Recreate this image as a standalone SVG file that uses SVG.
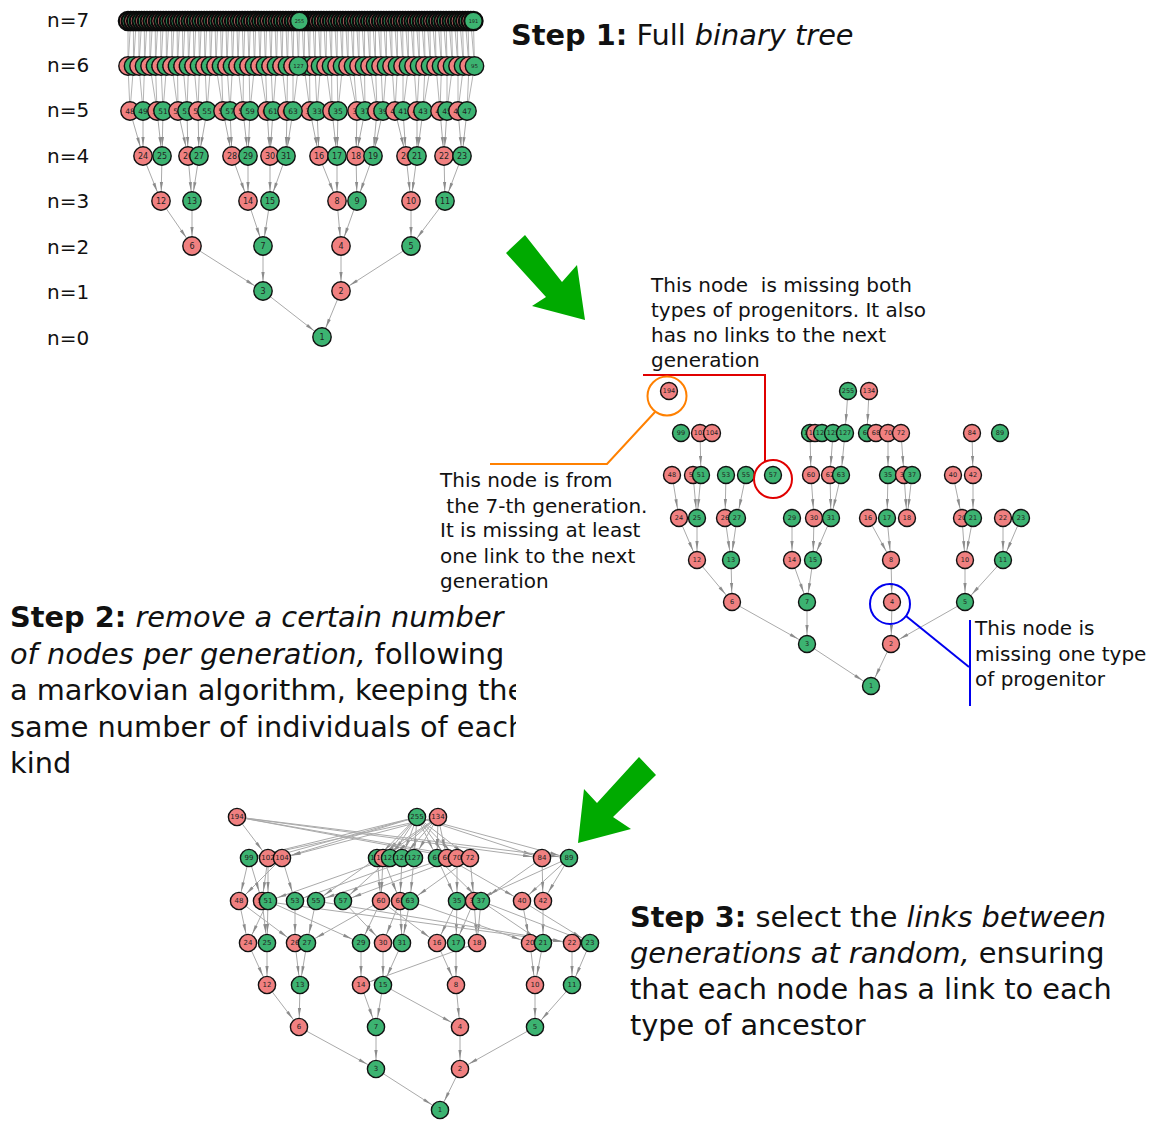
<svg xmlns="http://www.w3.org/2000/svg" width="1158" height="1121" viewBox="0 0 1158 1121">
<style>
text{font-family:"DejaVu Sans",sans-serif;fill:#111}
.p{fill:#f08080;stroke:#111;stroke-width:1.4}
.g{fill:#3cb371;stroke:#111;stroke-width:1.4}
#tree1-gen7 .p,#tree1-gen7 .g{stroke-width:2.2;stroke:#0a0a0a}
.edges line{stroke:#aaaaaa;stroke-width:1;marker-end:url(#ah)}
.edges .dense line{marker-end:none;stroke:#b4b4b4}
.nodes text{text-anchor:middle;dominant-baseline:central;fill:#222}
.ann{font-size:20px}
.step{font-size:28.8px}
.b{font-weight:bold}
.i{font-style:italic}
.big{fill:#00aa00}
</style>
<defs>
<marker id="ah" markerUnits="userSpaceOnUse" markerWidth="40" markerHeight="10" viewBox="-20 -5 40 10" refX="10" refY="0" orient="auto" overflow="visible"><path d="M-9,-1.6 L0,0 L-9,1.6 z" fill="#8c8c8c"/></marker>
<clipPath id="clip2"><rect x="0" y="590" width="516" height="200"/></clipPath>
</defs>
<rect width="1158" height="1121" fill="#fff"/>

<g id="gen-labels" font-size="20">
<text x="47" y="27">n=7</text><text x="47" y="72">n=6</text><text x="47" y="117">n=5</text><text x="47" y="163">n=4</text>
<text x="47" y="208">n=3</text><text x="47" y="254">n=2</text><text x="47" y="299">n=1</text><text x="47" y="345">n=0</text>
</g>

<g id="tree1">
<g id="tree1-connectors" class="edges">
<g class="dense">
<line x1="128" y1="21" x2="128" y2="66"/><line x1="130.7" y1="21" x2="128" y2="66"/><line x1="133.4" y1="21" x2="133.5" y2="66"/><line x1="136.2" y1="21" x2="133.5" y2="66"/><line x1="138.9" y1="21" x2="139" y2="66"/><line x1="141.6" y1="21" x2="139" y2="66"/><line x1="144.3" y1="21" x2="144.5" y2="66"/><line x1="147" y1="21" x2="144.5" y2="66"/><line x1="149.8" y1="21" x2="150" y2="66"/><line x1="152.5" y1="21" x2="150" y2="66"/><line x1="155.2" y1="21" x2="155.5" y2="66"/><line x1="157.9" y1="21" x2="155.5" y2="66"/><line x1="160.6" y1="21" x2="161" y2="66"/><line x1="163.4" y1="21" x2="161" y2="66"/><line x1="166.1" y1="21" x2="166.5" y2="66"/><line x1="168.8" y1="21" x2="166.5" y2="66"/>
<line x1="171.5" y1="21" x2="172" y2="66"/><line x1="174.2" y1="21" x2="172" y2="66"/><line x1="177" y1="21" x2="177.5" y2="66"/><line x1="179.7" y1="21" x2="177.5" y2="66"/><line x1="182.4" y1="21" x2="183" y2="66"/><line x1="185.1" y1="21" x2="183" y2="66"/><line x1="187.8" y1="21" x2="188.5" y2="66"/><line x1="190.6" y1="21" x2="188.5" y2="66"/><line x1="193.3" y1="21" x2="194" y2="66"/><line x1="196" y1="21" x2="194" y2="66"/><line x1="198.7" y1="21" x2="199.5" y2="66"/><line x1="201.4" y1="21" x2="199.5" y2="66"/><line x1="204.2" y1="21" x2="205" y2="66"/><line x1="206.9" y1="21" x2="205" y2="66"/><line x1="209.6" y1="21" x2="210.5" y2="66"/><line x1="212.3" y1="21" x2="210.5" y2="66"/>
<line x1="215" y1="21" x2="216" y2="66"/><line x1="217.8" y1="21" x2="216" y2="66"/><line x1="220.5" y1="21" x2="221.5" y2="66"/><line x1="223.2" y1="21" x2="221.5" y2="66"/><line x1="225.9" y1="21" x2="227" y2="66"/><line x1="228.6" y1="21" x2="227" y2="66"/><line x1="231.4" y1="21" x2="232.5" y2="66"/><line x1="234.1" y1="21" x2="232.5" y2="66"/><line x1="236.8" y1="21" x2="238" y2="66"/><line x1="239.5" y1="21" x2="238" y2="66"/><line x1="242.2" y1="21" x2="243.5" y2="66"/><line x1="245" y1="21" x2="243.5" y2="66"/><line x1="247.7" y1="21" x2="249" y2="66"/><line x1="250.4" y1="21" x2="249" y2="66"/><line x1="253.1" y1="21" x2="254.5" y2="66"/><line x1="255.8" y1="21" x2="254.5" y2="66"/>
<line x1="258.6" y1="21" x2="260" y2="66"/><line x1="261.3" y1="21" x2="260" y2="66"/><line x1="264" y1="21" x2="265.5" y2="66"/><line x1="266.7" y1="21" x2="265.5" y2="66"/><line x1="269.4" y1="21" x2="271" y2="66"/><line x1="272.2" y1="21" x2="271" y2="66"/><line x1="274.9" y1="21" x2="276.5" y2="66"/><line x1="277.6" y1="21" x2="276.5" y2="66"/><line x1="280.3" y1="21" x2="282" y2="66"/><line x1="283" y1="21" x2="282" y2="66"/><line x1="285.8" y1="21" x2="287.5" y2="66"/><line x1="288.5" y1="21" x2="287.5" y2="66"/><line x1="291.2" y1="21" x2="293" y2="66"/><line x1="293.9" y1="21" x2="293" y2="66"/><line x1="296.6" y1="21" x2="298.5" y2="66"/><line x1="299.4" y1="21" x2="298.5" y2="66"/>
<line x1="302.1" y1="21" x2="304" y2="66"/><line x1="304.8" y1="21" x2="304" y2="66"/><line x1="307.5" y1="21" x2="309.5" y2="66"/><line x1="310.2" y1="21" x2="309.5" y2="66"/><line x1="313" y1="21" x2="315" y2="66"/><line x1="315.7" y1="21" x2="315" y2="66"/><line x1="318.4" y1="21" x2="320.5" y2="66"/><line x1="321.1" y1="21" x2="320.5" y2="66"/><line x1="323.8" y1="21" x2="326" y2="66"/><line x1="326.6" y1="21" x2="326" y2="66"/><line x1="329.3" y1="21" x2="331.5" y2="66"/><line x1="332" y1="21" x2="331.5" y2="66"/><line x1="334.7" y1="21" x2="337" y2="66"/><line x1="337.4" y1="21" x2="337" y2="66"/><line x1="340.2" y1="21" x2="342.5" y2="66"/><line x1="342.9" y1="21" x2="342.5" y2="66"/>
<line x1="345.6" y1="21" x2="348" y2="66"/><line x1="348.3" y1="21" x2="348" y2="66"/><line x1="351" y1="21" x2="353.5" y2="66"/><line x1="353.8" y1="21" x2="353.5" y2="66"/><line x1="356.5" y1="21" x2="359" y2="66"/><line x1="359.2" y1="21" x2="359" y2="66"/><line x1="361.9" y1="21" x2="364.5" y2="66"/><line x1="364.6" y1="21" x2="364.5" y2="66"/><line x1="367.4" y1="21" x2="370" y2="66"/><line x1="370.1" y1="21" x2="370" y2="66"/><line x1="372.8" y1="21" x2="375.5" y2="66"/><line x1="375.5" y1="21" x2="375.5" y2="66"/><line x1="378.2" y1="21" x2="381" y2="66"/><line x1="381" y1="21" x2="381" y2="66"/><line x1="383.7" y1="21" x2="386.5" y2="66"/><line x1="386.4" y1="21" x2="386.5" y2="66"/>
<line x1="389.1" y1="21" x2="392" y2="66"/><line x1="391.8" y1="21" x2="392" y2="66"/><line x1="394.6" y1="21" x2="397.5" y2="66"/><line x1="397.3" y1="21" x2="397.5" y2="66"/><line x1="400" y1="21" x2="403" y2="66"/><line x1="402.7" y1="21" x2="403" y2="66"/><line x1="405.4" y1="21" x2="408.5" y2="66"/><line x1="408.2" y1="21" x2="408.5" y2="66"/><line x1="410.9" y1="21" x2="414" y2="66"/><line x1="413.6" y1="21" x2="414" y2="66"/><line x1="416.3" y1="21" x2="419.5" y2="66"/><line x1="419" y1="21" x2="419.5" y2="66"/><line x1="421.8" y1="21" x2="425" y2="66"/><line x1="424.5" y1="21" x2="425" y2="66"/><line x1="427.2" y1="21" x2="430.5" y2="66"/><line x1="429.9" y1="21" x2="430.5" y2="66"/>
<line x1="432.6" y1="21" x2="436" y2="66"/><line x1="435.4" y1="21" x2="436" y2="66"/><line x1="438.1" y1="21" x2="441.5" y2="66"/><line x1="440.8" y1="21" x2="441.5" y2="66"/><line x1="443.5" y1="21" x2="447" y2="66"/><line x1="446.2" y1="21" x2="447" y2="66"/><line x1="449" y1="21" x2="452.5" y2="66"/><line x1="451.7" y1="21" x2="452.5" y2="66"/><line x1="454.4" y1="21" x2="458" y2="66"/><line x1="457.1" y1="21" x2="458" y2="66"/><line x1="459.8" y1="21" x2="463.5" y2="66"/><line x1="462.6" y1="21" x2="463.5" y2="66"/><line x1="465.3" y1="21" x2="469" y2="66"/><line x1="468" y1="21" x2="469" y2="66"/><line x1="470.7" y1="21" x2="474.5" y2="66"/><line x1="473.4" y1="21" x2="474.5" y2="66"/>
<line x1="128" y1="66" x2="130" y2="111"/><line x1="133.5" y1="66" x2="130" y2="111"/><line x1="139" y1="66" x2="143" y2="111"/><line x1="144.5" y1="66" x2="143" y2="111"/><line x1="150" y1="66" x2="157" y2="111"/><line x1="155.5" y1="66" x2="157" y2="111"/><line x1="161" y1="66" x2="163" y2="111"/><line x1="166.5" y1="66" x2="163" y2="111"/><line x1="172" y1="66" x2="178" y2="111"/><line x1="177.5" y1="66" x2="178" y2="111"/><line x1="183" y1="66" x2="187" y2="111"/><line x1="188.5" y1="66" x2="187" y2="111"/><line x1="194" y1="66" x2="198" y2="111"/><line x1="199.5" y1="66" x2="198" y2="111"/><line x1="205" y1="66" x2="207" y2="111"/><line x1="210.5" y1="66" x2="207" y2="111"/>
<line x1="216" y1="66" x2="223" y2="111"/><line x1="221.5" y1="66" x2="223" y2="111"/><line x1="227" y1="66" x2="230" y2="111"/><line x1="232.5" y1="66" x2="230" y2="111"/><line x1="238" y1="66" x2="243" y2="111"/><line x1="243.5" y1="66" x2="243" y2="111"/><line x1="249" y1="66" x2="250" y2="111"/><line x1="254.5" y1="66" x2="250" y2="111"/><line x1="260" y1="66" x2="267" y2="111"/><line x1="265.5" y1="66" x2="267" y2="111"/><line x1="271" y1="66" x2="273" y2="111"/><line x1="276.5" y1="66" x2="273" y2="111"/><line x1="282" y1="66" x2="287" y2="111"/><line x1="287.5" y1="66" x2="287" y2="111"/><line x1="293" y1="66" x2="293" y2="111"/><line x1="298.5" y1="66" x2="293" y2="111"/>
<line x1="304" y1="66" x2="310" y2="111"/><line x1="309.5" y1="66" x2="310" y2="111"/><line x1="315" y1="66" x2="317" y2="111"/><line x1="320.5" y1="66" x2="317" y2="111"/><line x1="326" y1="66" x2="332" y2="111"/><line x1="331.5" y1="66" x2="332" y2="111"/><line x1="337" y1="66" x2="338" y2="111"/><line x1="342.5" y1="66" x2="338" y2="111"/><line x1="348" y1="66" x2="357" y2="111"/><line x1="353.5" y1="66" x2="357" y2="111"/><line x1="359" y1="66" x2="365" y2="111"/><line x1="364.5" y1="66" x2="365" y2="111"/><line x1="370" y1="66" x2="377" y2="111"/><line x1="375.5" y1="66" x2="377" y2="111"/><line x1="381" y1="66" x2="383" y2="111"/><line x1="386.5" y1="66" x2="383" y2="111"/>
<line x1="392" y1="66" x2="395" y2="111"/><line x1="397.5" y1="66" x2="395" y2="111"/><line x1="403" y1="66" x2="403" y2="111"/><line x1="408.5" y1="66" x2="403" y2="111"/><line x1="414" y1="66" x2="417" y2="111"/><line x1="419.5" y1="66" x2="417" y2="111"/><line x1="425" y1="66" x2="423" y2="111"/><line x1="430.5" y1="66" x2="423" y2="111"/><line x1="436" y1="66" x2="440" y2="111"/><line x1="441.5" y1="66" x2="440" y2="111"/><line x1="447" y1="66" x2="447" y2="111"/><line x1="452.5" y1="66" x2="447" y2="111"/><line x1="458" y1="66" x2="458" y2="111"/><line x1="463.5" y1="66" x2="458" y2="111"/><line x1="469" y1="66" x2="467" y2="111"/><line x1="474.5" y1="66" x2="467" y2="111"/>
</g>
<line x1="130" y1="111" x2="143" y2="156"/><line x1="143" y1="111" x2="143" y2="156"/><line x1="157" y1="111" x2="162" y2="156"/><line x1="163" y1="111" x2="162" y2="156"/><line x1="178" y1="111" x2="188" y2="156"/><line x1="187" y1="111" x2="188" y2="156"/><line x1="198" y1="111" x2="199" y2="156"/><line x1="207" y1="111" x2="199" y2="156"/><line x1="223" y1="111" x2="232" y2="156"/><line x1="230" y1="111" x2="232" y2="156"/><line x1="243" y1="111" x2="248" y2="156"/><line x1="250" y1="111" x2="248" y2="156"/><line x1="267" y1="111" x2="270" y2="156"/><line x1="273" y1="111" x2="270" y2="156"/><line x1="287" y1="111" x2="286" y2="156"/><line x1="293" y1="111" x2="286" y2="156"/>
<line x1="310" y1="111" x2="319" y2="156"/><line x1="317" y1="111" x2="319" y2="156"/><line x1="332" y1="111" x2="337" y2="156"/><line x1="338" y1="111" x2="337" y2="156"/><line x1="357" y1="111" x2="356" y2="156"/><line x1="365" y1="111" x2="356" y2="156"/><line x1="377" y1="111" x2="373" y2="156"/><line x1="383" y1="111" x2="373" y2="156"/><line x1="395" y1="111" x2="406" y2="156"/><line x1="403" y1="111" x2="406" y2="156"/><line x1="417" y1="111" x2="417" y2="156"/><line x1="423" y1="111" x2="417" y2="156"/><line x1="440" y1="111" x2="444" y2="156"/><line x1="447" y1="111" x2="444" y2="156"/><line x1="458" y1="111" x2="462" y2="156"/><line x1="467" y1="111" x2="462" y2="156"/>
<line x1="143" y1="156" x2="161" y2="201"/><line x1="162" y1="156" x2="161" y2="201"/><line x1="188" y1="156" x2="192" y2="201"/><line x1="199" y1="156" x2="192" y2="201"/><line x1="232" y1="156" x2="248" y2="201"/><line x1="248" y1="156" x2="248" y2="201"/><line x1="270" y1="156" x2="270" y2="201"/><line x1="286" y1="156" x2="270" y2="201"/><line x1="319" y1="156" x2="337" y2="201"/><line x1="337" y1="156" x2="337" y2="201"/><line x1="356" y1="156" x2="357" y2="201"/><line x1="373" y1="156" x2="357" y2="201"/><line x1="406" y1="156" x2="411" y2="201"/><line x1="417" y1="156" x2="411" y2="201"/><line x1="444" y1="156" x2="445" y2="201"/><line x1="462" y1="156" x2="445" y2="201"/>
<line x1="161" y1="201" x2="192" y2="246"/><line x1="192" y1="201" x2="192" y2="246"/><line x1="248" y1="201" x2="263" y2="246"/><line x1="270" y1="201" x2="263" y2="246"/><line x1="337" y1="201" x2="341" y2="246"/><line x1="357" y1="201" x2="341" y2="246"/><line x1="411" y1="201" x2="411" y2="246"/><line x1="445" y1="201" x2="411" y2="246"/>
<line x1="192" y1="246" x2="263" y2="291"/><line x1="263" y1="246" x2="263" y2="291"/><line x1="341" y1="246" x2="341" y2="291"/><line x1="411" y1="246" x2="341" y2="291"/>
<line x1="263" y1="291" x2="322" y2="337"/><line x1="341" y1="291" x2="322" y2="337"/>
</g>
<g id="tree1-nodes" class="nodes">
<g id="tree1-gen7" font-size="5">
<circle id="t128" class="p" cx="302.1" cy="21" r="9.2"/><circle id="t129" class="g" cx="304.8" cy="21" r="9.2"/><circle id="t130" class="p" cx="307.5" cy="21" r="9.2"/><circle id="t131" class="g" cx="310.2" cy="21" r="9.2"/><circle id="t132" class="p" cx="313" cy="21" r="9.2"/><circle id="t133" class="g" cx="315.7" cy="21" r="9.2"/><circle id="t134" class="p" cx="318.4" cy="21" r="9.2"/><circle id="t135" class="g" cx="321.1" cy="21" r="9.2"/>
<circle id="t136" class="p" cx="323.8" cy="21" r="9.2"/><circle id="t137" class="g" cx="326.6" cy="21" r="9.2"/><circle id="t138" class="p" cx="329.3" cy="21" r="9.2"/><circle id="t139" class="g" cx="332" cy="21" r="9.2"/><circle id="t140" class="p" cx="334.7" cy="21" r="9.2"/><circle id="t141" class="g" cx="337.4" cy="21" r="9.2"/><circle id="t142" class="p" cx="340.2" cy="21" r="9.2"/><circle id="t143" class="g" cx="342.9" cy="21" r="9.2"/>
<circle id="t144" class="p" cx="345.6" cy="21" r="9.2"/><circle id="t145" class="g" cx="348.3" cy="21" r="9.2"/><circle id="t146" class="p" cx="351" cy="21" r="9.2"/><circle id="t147" class="g" cx="353.8" cy="21" r="9.2"/><circle id="t148" class="p" cx="356.5" cy="21" r="9.2"/><circle id="t149" class="g" cx="359.2" cy="21" r="9.2"/><circle id="t150" class="p" cx="361.9" cy="21" r="9.2"/><circle id="t151" class="g" cx="364.6" cy="21" r="9.2"/>
<circle id="t152" class="p" cx="367.4" cy="21" r="9.2"/><circle id="t153" class="g" cx="370.1" cy="21" r="9.2"/><circle id="t154" class="p" cx="372.8" cy="21" r="9.2"/><circle id="t155" class="g" cx="375.5" cy="21" r="9.2"/><circle id="t156" class="p" cx="378.2" cy="21" r="9.2"/><circle id="t157" class="g" cx="381" cy="21" r="9.2"/><circle id="t158" class="p" cx="383.7" cy="21" r="9.2"/><circle id="t159" class="g" cx="386.4" cy="21" r="9.2"/>
<circle id="t160" class="p" cx="389.1" cy="21" r="9.2"/><circle id="t161" class="g" cx="391.8" cy="21" r="9.2"/><circle id="t162" class="p" cx="394.6" cy="21" r="9.2"/><circle id="t163" class="g" cx="397.3" cy="21" r="9.2"/><circle id="t164" class="p" cx="400" cy="21" r="9.2"/><circle id="t165" class="g" cx="402.7" cy="21" r="9.2"/><circle id="t166" class="p" cx="405.4" cy="21" r="9.2"/><circle id="t167" class="g" cx="408.2" cy="21" r="9.2"/>
<circle id="t168" class="p" cx="410.9" cy="21" r="9.2"/><circle id="t169" class="g" cx="413.6" cy="21" r="9.2"/><circle id="t170" class="p" cx="416.3" cy="21" r="9.2"/><circle id="t171" class="g" cx="419" cy="21" r="9.2"/><circle id="t172" class="p" cx="421.8" cy="21" r="9.2"/><circle id="t173" class="g" cx="424.5" cy="21" r="9.2"/><circle id="t174" class="p" cx="427.2" cy="21" r="9.2"/><circle id="t175" class="g" cx="429.9" cy="21" r="9.2"/>
<circle id="t176" class="p" cx="432.6" cy="21" r="9.2"/><circle id="t177" class="g" cx="435.4" cy="21" r="9.2"/><circle id="t178" class="p" cx="438.1" cy="21" r="9.2"/><circle id="t179" class="g" cx="440.8" cy="21" r="9.2"/><circle id="t180" class="p" cx="443.5" cy="21" r="9.2"/><circle id="t181" class="g" cx="446.2" cy="21" r="9.2"/><circle id="t182" class="p" cx="449" cy="21" r="9.2"/><circle id="t183" class="g" cx="451.7" cy="21" r="9.2"/>
<circle id="t184" class="p" cx="454.4" cy="21" r="9.2"/><circle id="t185" class="g" cx="457.1" cy="21" r="9.2"/><circle id="t186" class="p" cx="459.8" cy="21" r="9.2"/><circle id="t187" class="g" cx="462.6" cy="21" r="9.2"/><circle id="t188" class="p" cx="465.3" cy="21" r="9.2"/><circle id="t189" class="g" cx="468" cy="21" r="9.2"/><circle id="t190" class="p" cx="470.7" cy="21" r="9.2"/>
<g id="t191"><circle class="g" cx="473.4" cy="21" r="9.2"/><text x="473.4" y="21">191</text></g>
<circle id="t192" class="p" cx="128" cy="21" r="9.2"/><circle id="t193" class="g" cx="130.7" cy="21" r="9.2"/><circle id="t194" class="p" cx="133.4" cy="21" r="9.2"/><circle id="t195" class="g" cx="136.2" cy="21" r="9.2"/><circle id="t196" class="p" cx="138.9" cy="21" r="9.2"/><circle id="t197" class="g" cx="141.6" cy="21" r="9.2"/><circle id="t198" class="p" cx="144.3" cy="21" r="9.2"/><circle id="t199" class="g" cx="147" cy="21" r="9.2"/>
<circle id="t200" class="p" cx="149.8" cy="21" r="9.2"/><circle id="t201" class="g" cx="152.5" cy="21" r="9.2"/><circle id="t202" class="p" cx="155.2" cy="21" r="9.2"/><circle id="t203" class="g" cx="157.9" cy="21" r="9.2"/><circle id="t204" class="p" cx="160.6" cy="21" r="9.2"/><circle id="t205" class="g" cx="163.4" cy="21" r="9.2"/><circle id="t206" class="p" cx="166.1" cy="21" r="9.2"/><circle id="t207" class="g" cx="168.8" cy="21" r="9.2"/>
<circle id="t208" class="p" cx="171.5" cy="21" r="9.2"/><circle id="t209" class="g" cx="174.2" cy="21" r="9.2"/><circle id="t210" class="p" cx="177" cy="21" r="9.2"/><circle id="t211" class="g" cx="179.7" cy="21" r="9.2"/><circle id="t212" class="p" cx="182.4" cy="21" r="9.2"/><circle id="t213" class="g" cx="185.1" cy="21" r="9.2"/><circle id="t214" class="p" cx="187.8" cy="21" r="9.2"/><circle id="t215" class="g" cx="190.6" cy="21" r="9.2"/>
<circle id="t216" class="p" cx="193.3" cy="21" r="9.2"/><circle id="t217" class="g" cx="196" cy="21" r="9.2"/><circle id="t218" class="p" cx="198.7" cy="21" r="9.2"/><circle id="t219" class="g" cx="201.4" cy="21" r="9.2"/><circle id="t220" class="p" cx="204.2" cy="21" r="9.2"/><circle id="t221" class="g" cx="206.9" cy="21" r="9.2"/><circle id="t222" class="p" cx="209.6" cy="21" r="9.2"/><circle id="t223" class="g" cx="212.3" cy="21" r="9.2"/>
<circle id="t224" class="p" cx="215" cy="21" r="9.2"/><circle id="t225" class="g" cx="217.8" cy="21" r="9.2"/><circle id="t226" class="p" cx="220.5" cy="21" r="9.2"/><circle id="t227" class="g" cx="223.2" cy="21" r="9.2"/><circle id="t228" class="p" cx="225.9" cy="21" r="9.2"/><circle id="t229" class="g" cx="228.6" cy="21" r="9.2"/><circle id="t230" class="p" cx="231.4" cy="21" r="9.2"/><circle id="t231" class="g" cx="234.1" cy="21" r="9.2"/>
<circle id="t232" class="p" cx="236.8" cy="21" r="9.2"/><circle id="t233" class="g" cx="239.5" cy="21" r="9.2"/><circle id="t234" class="p" cx="242.2" cy="21" r="9.2"/><circle id="t235" class="g" cx="245" cy="21" r="9.2"/><circle id="t236" class="p" cx="247.7" cy="21" r="9.2"/><circle id="t237" class="g" cx="250.4" cy="21" r="9.2"/><circle id="t238" class="p" cx="253.1" cy="21" r="9.2"/><circle id="t239" class="g" cx="255.8" cy="21" r="9.2"/>
<circle id="t240" class="p" cx="258.6" cy="21" r="9.2"/><circle id="t241" class="g" cx="261.3" cy="21" r="9.2"/><circle id="t242" class="p" cx="264" cy="21" r="9.2"/><circle id="t243" class="g" cx="266.7" cy="21" r="9.2"/><circle id="t244" class="p" cx="269.4" cy="21" r="9.2"/><circle id="t245" class="g" cx="272.2" cy="21" r="9.2"/><circle id="t246" class="p" cx="274.9" cy="21" r="9.2"/><circle id="t247" class="g" cx="277.6" cy="21" r="9.2"/>
<circle id="t248" class="p" cx="280.3" cy="21" r="9.2"/><circle id="t249" class="g" cx="283" cy="21" r="9.2"/><circle id="t250" class="p" cx="285.8" cy="21" r="9.2"/><circle id="t251" class="g" cx="288.5" cy="21" r="9.2"/><circle id="t252" class="p" cx="291.2" cy="21" r="9.2"/><circle id="t253" class="g" cx="293.9" cy="21" r="9.2"/><circle id="t254" class="p" cx="296.6" cy="21" r="9.2"/>
<g id="t255"><circle class="g" cx="299.4" cy="21" r="9.2"/><text x="299.4" y="21">255</text></g>
</g>
<g id="tree1-gen6" font-size="5.5">
<g id="t64"><circle class="p" cx="304" cy="66" r="9.2"/><text x="304" y="66">64</text></g><g id="t65"><circle class="g" cx="309.5" cy="66" r="9.2"/><text x="309.5" y="66">65</text></g><g id="t66"><circle class="p" cx="315" cy="66" r="9.2"/><text x="315" y="66">66</text></g><g id="t67"><circle class="g" cx="320.5" cy="66" r="9.2"/><text x="320.5" y="66">67</text></g>
<g id="t68"><circle class="p" cx="326" cy="66" r="9.2"/><text x="326" y="66">68</text></g><g id="t69"><circle class="g" cx="331.5" cy="66" r="9.2"/><text x="331.5" y="66">69</text></g><g id="t70"><circle class="p" cx="337" cy="66" r="9.2"/><text x="337" y="66">70</text></g><g id="t71"><circle class="g" cx="342.5" cy="66" r="9.2"/><text x="342.5" y="66">71</text></g>
<g id="t72"><circle class="p" cx="348" cy="66" r="9.2"/><text x="348" y="66">72</text></g><g id="t73"><circle class="g" cx="353.5" cy="66" r="9.2"/><text x="353.5" y="66">73</text></g><g id="t74"><circle class="p" cx="359" cy="66" r="9.2"/><text x="359" y="66">74</text></g><g id="t75"><circle class="g" cx="364.5" cy="66" r="9.2"/><text x="364.5" y="66">75</text></g>
<g id="t76"><circle class="p" cx="370" cy="66" r="9.2"/><text x="370" y="66">76</text></g><g id="t77"><circle class="g" cx="375.5" cy="66" r="9.2"/><text x="375.5" y="66">77</text></g><g id="t78"><circle class="p" cx="381" cy="66" r="9.2"/><text x="381" y="66">78</text></g><g id="t79"><circle class="g" cx="386.5" cy="66" r="9.2"/><text x="386.5" y="66">79</text></g>
<g id="t80"><circle class="p" cx="392" cy="66" r="9.2"/><text x="392" y="66">80</text></g><g id="t81"><circle class="g" cx="397.5" cy="66" r="9.2"/><text x="397.5" y="66">81</text></g><g id="t82"><circle class="p" cx="403" cy="66" r="9.2"/><text x="403" y="66">82</text></g><g id="t83"><circle class="g" cx="408.5" cy="66" r="9.2"/><text x="408.5" y="66">83</text></g>
<g id="t84"><circle class="p" cx="414" cy="66" r="9.2"/><text x="414" y="66">84</text></g><g id="t85"><circle class="g" cx="419.5" cy="66" r="9.2"/><text x="419.5" y="66">85</text></g><g id="t86"><circle class="p" cx="425" cy="66" r="9.2"/><text x="425" y="66">86</text></g><g id="t87"><circle class="g" cx="430.5" cy="66" r="9.2"/><text x="430.5" y="66">87</text></g>
<g id="t88"><circle class="p" cx="436" cy="66" r="9.2"/><text x="436" y="66">88</text></g><g id="t89"><circle class="g" cx="441.5" cy="66" r="9.2"/><text x="441.5" y="66">89</text></g><g id="t90"><circle class="p" cx="447" cy="66" r="9.2"/><text x="447" y="66">90</text></g><g id="t91"><circle class="g" cx="452.5" cy="66" r="9.2"/><text x="452.5" y="66">91</text></g>
<g id="t92"><circle class="p" cx="458" cy="66" r="9.2"/><text x="458" y="66">92</text></g><g id="t93"><circle class="g" cx="463.5" cy="66" r="9.2"/><text x="463.5" y="66">93</text></g><g id="t94"><circle class="p" cx="469" cy="66" r="9.2"/><text x="469" y="66">94</text></g><g id="t95"><circle class="g" cx="474.5" cy="66" r="9.2"/><text x="474.5" y="66">95</text></g>
<g id="t96"><circle class="p" cx="128" cy="66" r="9.2"/><text x="128" y="66">96</text></g><g id="t97"><circle class="g" cx="133.5" cy="66" r="9.2"/><text x="133.5" y="66">97</text></g><g id="t98"><circle class="p" cx="139" cy="66" r="9.2"/><text x="139" y="66">98</text></g><g id="t99"><circle class="g" cx="144.5" cy="66" r="9.2"/><text x="144.5" y="66">99</text></g>
<g id="t100"><circle class="p" cx="150" cy="66" r="9.2"/><text x="150" y="66">100</text></g><g id="t101"><circle class="g" cx="155.5" cy="66" r="9.2"/><text x="155.5" y="66">101</text></g><g id="t102"><circle class="p" cx="161" cy="66" r="9.2"/><text x="161" y="66">102</text></g><g id="t103"><circle class="g" cx="166.5" cy="66" r="9.2"/><text x="166.5" y="66">103</text></g>
<g id="t104"><circle class="p" cx="172" cy="66" r="9.2"/><text x="172" y="66">104</text></g><g id="t105"><circle class="g" cx="177.5" cy="66" r="9.2"/><text x="177.5" y="66">105</text></g><g id="t106"><circle class="p" cx="183" cy="66" r="9.2"/><text x="183" y="66">106</text></g><g id="t107"><circle class="g" cx="188.5" cy="66" r="9.2"/><text x="188.5" y="66">107</text></g>
<g id="t108"><circle class="p" cx="194" cy="66" r="9.2"/><text x="194" y="66">108</text></g><g id="t109"><circle class="g" cx="199.5" cy="66" r="9.2"/><text x="199.5" y="66">109</text></g><g id="t110"><circle class="p" cx="205" cy="66" r="9.2"/><text x="205" y="66">110</text></g><g id="t111"><circle class="g" cx="210.5" cy="66" r="9.2"/><text x="210.5" y="66">111</text></g>
<g id="t112"><circle class="p" cx="216" cy="66" r="9.2"/><text x="216" y="66">112</text></g><g id="t113"><circle class="g" cx="221.5" cy="66" r="9.2"/><text x="221.5" y="66">113</text></g><g id="t114"><circle class="p" cx="227" cy="66" r="9.2"/><text x="227" y="66">114</text></g><g id="t115"><circle class="g" cx="232.5" cy="66" r="9.2"/><text x="232.5" y="66">115</text></g>
<g id="t116"><circle class="p" cx="238" cy="66" r="9.2"/><text x="238" y="66">116</text></g><g id="t117"><circle class="g" cx="243.5" cy="66" r="9.2"/><text x="243.5" y="66">117</text></g><g id="t118"><circle class="p" cx="249" cy="66" r="9.2"/><text x="249" y="66">118</text></g><g id="t119"><circle class="g" cx="254.5" cy="66" r="9.2"/><text x="254.5" y="66">119</text></g>
<g id="t120"><circle class="p" cx="260" cy="66" r="9.2"/><text x="260" y="66">120</text></g><g id="t121"><circle class="g" cx="265.5" cy="66" r="9.2"/><text x="265.5" y="66">121</text></g><g id="t122"><circle class="p" cx="271" cy="66" r="9.2"/><text x="271" y="66">122</text></g><g id="t123"><circle class="g" cx="276.5" cy="66" r="9.2"/><text x="276.5" y="66">123</text></g>
<g id="t124"><circle class="p" cx="282" cy="66" r="9.2"/><text x="282" y="66">124</text></g><g id="t125"><circle class="g" cx="287.5" cy="66" r="9.2"/><text x="287.5" y="66">125</text></g><g id="t126"><circle class="p" cx="293" cy="66" r="9.2"/><text x="293" y="66">126</text></g><g id="t127"><circle class="g" cx="298.5" cy="66" r="9.2"/><text x="298.5" y="66">127</text></g>
</g>
<g id="tree1-gen5" font-size="7.5">
<g id="t32"><circle class="p" cx="310" cy="111" r="9.2"/><text x="310" y="111">32</text></g><g id="t33"><circle class="g" cx="317" cy="111" r="9.2"/><text x="317" y="111">33</text></g><g id="t34"><circle class="p" cx="332" cy="111" r="9.2"/><text x="332" y="111">34</text></g><g id="t35"><circle class="g" cx="338" cy="111" r="9.2"/><text x="338" y="111">35</text></g>
<g id="t36"><circle class="p" cx="357" cy="111" r="9.2"/><text x="357" y="111">36</text></g><g id="t37"><circle class="g" cx="365" cy="111" r="9.2"/><text x="365" y="111">37</text></g><g id="t38"><circle class="p" cx="377" cy="111" r="9.2"/><text x="377" y="111">38</text></g><g id="t39"><circle class="g" cx="383" cy="111" r="9.2"/><text x="383" y="111">39</text></g>
<g id="t40"><circle class="p" cx="395" cy="111" r="9.2"/><text x="395" y="111">40</text></g><g id="t41"><circle class="g" cx="403" cy="111" r="9.2"/><text x="403" y="111">41</text></g><g id="t42"><circle class="p" cx="417" cy="111" r="9.2"/><text x="417" y="111">42</text></g><g id="t43"><circle class="g" cx="423" cy="111" r="9.2"/><text x="423" y="111">43</text></g>
<g id="t44"><circle class="p" cx="440" cy="111" r="9.2"/><text x="440" y="111">44</text></g><g id="t45"><circle class="g" cx="447" cy="111" r="9.2"/><text x="447" y="111">45</text></g><g id="t46"><circle class="p" cx="458" cy="111" r="9.2"/><text x="458" y="111">46</text></g><g id="t47"><circle class="g" cx="467" cy="111" r="9.2"/><text x="467" y="111">47</text></g>
<g id="t48"><circle class="p" cx="130" cy="111" r="9.2"/><text x="130" y="111">48</text></g><g id="t49"><circle class="g" cx="143" cy="111" r="9.2"/><text x="143" y="111">49</text></g><g id="t50"><circle class="p" cx="157" cy="111" r="9.2"/><text x="157" y="111">50</text></g><g id="t51"><circle class="g" cx="163" cy="111" r="9.2"/><text x="163" y="111">51</text></g>
<g id="t52"><circle class="p" cx="178" cy="111" r="9.2"/><text x="178" y="111">52</text></g><g id="t53"><circle class="g" cx="187" cy="111" r="9.2"/><text x="187" y="111">53</text></g><g id="t54"><circle class="p" cx="198" cy="111" r="9.2"/><text x="198" y="111">54</text></g><g id="t55"><circle class="g" cx="207" cy="111" r="9.2"/><text x="207" y="111">55</text></g>
<g id="t56"><circle class="p" cx="223" cy="111" r="9.2"/><text x="223" y="111">56</text></g><g id="t57"><circle class="g" cx="230" cy="111" r="9.2"/><text x="230" y="111">57</text></g><g id="t58"><circle class="p" cx="243" cy="111" r="9.2"/><text x="243" y="111">58</text></g><g id="t59"><circle class="g" cx="250" cy="111" r="9.2"/><text x="250" y="111">59</text></g>
<g id="t60"><circle class="p" cx="267" cy="111" r="9.2"/><text x="267" y="111">60</text></g><g id="t61"><circle class="g" cx="273" cy="111" r="9.2"/><text x="273" y="111">61</text></g><g id="t62"><circle class="p" cx="287" cy="111" r="9.2"/><text x="287" y="111">62</text></g><g id="t63"><circle class="g" cx="293" cy="111" r="9.2"/><text x="293" y="111">63</text></g>
</g>
<g id="tree1-gen0-4" font-size="8">
<g id="t1"><circle class="g" cx="322" cy="337" r="9.2"/><text x="322" y="337">1</text></g>
<g id="t2"><circle class="p" cx="341" cy="291" r="9.2"/><text x="341" y="291">2</text></g>
<g id="t3"><circle class="g" cx="263" cy="291" r="9.2"/><text x="263" y="291">3</text></g>
<g id="t4"><circle class="p" cx="341" cy="246" r="9.2"/><text x="341" y="246">4</text></g>
<g id="t5"><circle class="g" cx="411" cy="246" r="9.2"/><text x="411" y="246">5</text></g>
<g id="t6"><circle class="p" cx="192" cy="246" r="9.2"/><text x="192" y="246">6</text></g>
<g id="t7"><circle class="g" cx="263" cy="246" r="9.2"/><text x="263" y="246">7</text></g>
<g id="t8"><circle class="p" cx="337" cy="201" r="9.2"/><text x="337" y="201">8</text></g>
<g id="t9"><circle class="g" cx="357" cy="201" r="9.2"/><text x="357" y="201">9</text></g>
<g id="t10"><circle class="p" cx="411" cy="201" r="9.2"/><text x="411" y="201">10</text></g>
<g id="t11"><circle class="g" cx="445" cy="201" r="9.2"/><text x="445" y="201">11</text></g>
<g id="t12"><circle class="p" cx="161" cy="201" r="9.2"/><text x="161" y="201">12</text></g>
<g id="t13"><circle class="g" cx="192" cy="201" r="9.2"/><text x="192" y="201">13</text></g>
<g id="t14"><circle class="p" cx="248" cy="201" r="9.2"/><text x="248" y="201">14</text></g>
<g id="t15"><circle class="g" cx="270" cy="201" r="9.2"/><text x="270" y="201">15</text></g>
<g id="t16"><circle class="p" cx="319" cy="156" r="9.2"/><text x="319" y="156">16</text></g>
<g id="t17"><circle class="g" cx="337" cy="156" r="9.2"/><text x="337" y="156">17</text></g>
<g id="t18"><circle class="p" cx="356" cy="156" r="9.2"/><text x="356" y="156">18</text></g>
<g id="t19"><circle class="g" cx="373" cy="156" r="9.2"/><text x="373" y="156">19</text></g>
<g id="t20"><circle class="p" cx="406" cy="156" r="9.2"/><text x="406" y="156">20</text></g>
<g id="t21"><circle class="g" cx="417" cy="156" r="9.2"/><text x="417" y="156">21</text></g>
<g id="t22"><circle class="p" cx="444" cy="156" r="9.2"/><text x="444" y="156">22</text></g>
<g id="t23"><circle class="g" cx="462" cy="156" r="9.2"/><text x="462" y="156">23</text></g>
<g id="t24"><circle class="p" cx="143" cy="156" r="9.2"/><text x="143" y="156">24</text></g>
<g id="t25"><circle class="g" cx="162" cy="156" r="9.2"/><text x="162" y="156">25</text></g>
<g id="t26"><circle class="p" cx="188" cy="156" r="9.2"/><text x="188" y="156">26</text></g>
<g id="t27"><circle class="g" cx="199" cy="156" r="9.2"/><text x="199" y="156">27</text></g>
<g id="t28"><circle class="p" cx="232" cy="156" r="9.2"/><text x="232" y="156">28</text></g>
<g id="t29"><circle class="g" cx="248" cy="156" r="9.2"/><text x="248" y="156">29</text></g>
<g id="t30"><circle class="p" cx="270" cy="156" r="9.2"/><text x="270" y="156">30</text></g>
<g id="t31"><circle class="g" cx="286" cy="156" r="9.2"/><text x="286" y="156">31</text></g>
</g>
</g>
</g>

<g id="tree2">
<g id="tree2-connectors" class="edges">
<line x1="848" y1="391" x2="845" y2="433"/><line x1="869" y1="391" x2="867" y2="433"/>
<line x1="700" y1="433" x2="701" y2="475"/><line x1="810" y1="433" x2="811" y2="475"/><line x1="833" y1="433" x2="830" y2="475"/><line x1="845" y1="433" x2="841" y2="475"/><line x1="888" y1="433" x2="888" y2="475"/><line x1="901" y1="433" x2="904" y2="475"/><line x1="972" y1="433" x2="973" y2="475"/>
<line x1="672" y1="475" x2="679" y2="518"/><line x1="693" y1="475" x2="697" y2="518"/><line x1="701" y1="475" x2="697" y2="518"/><line x1="726" y1="475" x2="725" y2="518"/><line x1="746" y1="475" x2="737" y2="518"/><line x1="811" y1="475" x2="814" y2="518"/><line x1="830" y1="475" x2="831" y2="518"/><line x1="841" y1="475" x2="831" y2="518"/><line x1="888" y1="475" x2="887" y2="518"/><line x1="904" y1="475" x2="907" y2="518"/><line x1="912" y1="475" x2="907" y2="518"/><line x1="953" y1="475" x2="962" y2="518"/><line x1="973" y1="475" x2="973" y2="518"/>
<line x1="679" y1="518" x2="697" y2="560"/><line x1="697" y1="518" x2="697" y2="560"/><line x1="725" y1="518" x2="731" y2="560"/><line x1="737" y1="518" x2="731" y2="560"/><line x1="792" y1="518" x2="792" y2="560"/><line x1="814" y1="518" x2="813" y2="560"/><line x1="831" y1="518" x2="813" y2="560"/><line x1="868" y1="518" x2="891" y2="560"/><line x1="887" y1="518" x2="891" y2="560"/><line x1="962" y1="518" x2="965" y2="560"/><line x1="973" y1="518" x2="965" y2="560"/><line x1="1003" y1="518" x2="1003" y2="560"/><line x1="1021" y1="518" x2="1003" y2="560"/>
<line x1="697" y1="560" x2="732" y2="602"/><line x1="731" y1="560" x2="732" y2="602"/><line x1="792" y1="560" x2="807" y2="602"/><line x1="813" y1="560" x2="807" y2="602"/><line x1="891" y1="560" x2="892" y2="602"/><line x1="965" y1="560" x2="965" y2="602"/><line x1="1003" y1="560" x2="965" y2="602"/>
<line x1="732" y1="602" x2="807" y2="644"/><line x1="807" y1="602" x2="807" y2="644"/><line x1="892" y1="602" x2="891" y2="644"/><line x1="965" y1="602" x2="891" y2="644"/>
<line x1="807" y1="644" x2="871" y2="686"/><line x1="891" y1="644" x2="871" y2="686"/>
</g>
<g id="tree2-nodes" class="nodes" font-size="6.5">
<g id="m1"><circle class="g" cx="871" cy="686" r="8.5"/><text x="871" y="686">1</text></g>
<g id="m2"><circle class="p" cx="891" cy="644" r="8.5"/><text x="891" y="644">2</text></g>
<g id="m3"><circle class="g" cx="807" cy="644" r="8.5"/><text x="807" y="644">3</text></g>
<g id="m4"><circle class="p" cx="892" cy="602" r="8.5"/><text x="892" y="602">4</text></g>
<g id="m5"><circle class="g" cx="965" cy="602" r="8.5"/><text x="965" y="602">5</text></g>
<g id="m6"><circle class="p" cx="732" cy="602" r="8.5"/><text x="732" y="602">6</text></g>
<g id="m7"><circle class="g" cx="807" cy="602" r="8.5"/><text x="807" y="602">7</text></g>
<g id="m8"><circle class="p" cx="891" cy="560" r="8.5"/><text x="891" y="560">8</text></g>
<g id="m10"><circle class="p" cx="965" cy="560" r="8.5"/><text x="965" y="560">10</text></g>
<g id="m11"><circle class="g" cx="1003" cy="560" r="8.5"/><text x="1003" y="560">11</text></g>
<g id="m12"><circle class="p" cx="697" cy="560" r="8.5"/><text x="697" y="560">12</text></g>
<g id="m13"><circle class="g" cx="731" cy="560" r="8.5"/><text x="731" y="560">13</text></g>
<g id="m14"><circle class="p" cx="792" cy="560" r="8.5"/><text x="792" y="560">14</text></g>
<g id="m15"><circle class="g" cx="813" cy="560" r="8.5"/><text x="813" y="560">15</text></g>
<g id="m16"><circle class="p" cx="868" cy="518" r="8.5"/><text x="868" y="518">16</text></g>
<g id="m17"><circle class="g" cx="887" cy="518" r="8.5"/><text x="887" y="518">17</text></g>
<g id="m18"><circle class="p" cx="907" cy="518" r="8.5"/><text x="907" y="518">18</text></g>
<g id="m20"><circle class="p" cx="962" cy="518" r="8.5"/><text x="962" y="518">20</text></g>
<g id="m21"><circle class="g" cx="973" cy="518" r="8.5"/><text x="973" y="518">21</text></g>
<g id="m22"><circle class="p" cx="1003" cy="518" r="8.5"/><text x="1003" y="518">22</text></g>
<g id="m23"><circle class="g" cx="1021" cy="518" r="8.5"/><text x="1021" y="518">23</text></g>
<g id="m24"><circle class="p" cx="679" cy="518" r="8.5"/><text x="679" y="518">24</text></g>
<g id="m25"><circle class="g" cx="697" cy="518" r="8.5"/><text x="697" y="518">25</text></g>
<g id="m26"><circle class="p" cx="725" cy="518" r="8.5"/><text x="725" y="518">26</text></g>
<g id="m27"><circle class="g" cx="737" cy="518" r="8.5"/><text x="737" y="518">27</text></g>
<g id="m29"><circle class="g" cx="792" cy="518" r="8.5"/><text x="792" y="518">29</text></g>
<g id="m30"><circle class="p" cx="814" cy="518" r="8.5"/><text x="814" y="518">30</text></g>
<g id="m31"><circle class="g" cx="831" cy="518" r="8.5"/><text x="831" y="518">31</text></g>
<g id="m35"><circle class="g" cx="888" cy="475" r="8.5"/><text x="888" y="475">35</text></g>
<g id="m36"><circle class="p" cx="904" cy="475" r="8.5"/><text x="904" y="475">36</text></g>
<g id="m37"><circle class="g" cx="912" cy="475" r="8.5"/><text x="912" y="475">37</text></g>
<g id="m40"><circle class="p" cx="953" cy="475" r="8.5"/><text x="953" y="475">40</text></g>
<g id="m42"><circle class="p" cx="973" cy="475" r="8.5"/><text x="973" y="475">42</text></g>
<g id="m48"><circle class="p" cx="672" cy="475" r="8.5"/><text x="672" y="475">48</text></g>
<g id="m50"><circle class="p" cx="693" cy="475" r="8.5"/><text x="693" y="475">50</text></g>
<g id="m51"><circle class="g" cx="701" cy="475" r="8.5"/><text x="701" y="475">51</text></g>
<g id="m53"><circle class="g" cx="726" cy="475" r="8.5"/><text x="726" y="475">53</text></g>
<g id="m55"><circle class="g" cx="746" cy="475" r="8.5"/><text x="746" y="475">55</text></g>
<g id="m57"><circle class="g" cx="773" cy="475" r="8.5"/><text x="773" y="475">57</text></g>
<g id="m60"><circle class="p" cx="811" cy="475" r="8.5"/><text x="811" y="475">60</text></g>
<g id="m62"><circle class="p" cx="830" cy="475" r="8.5"/><text x="830" y="475">62</text></g>
<g id="m63"><circle class="g" cx="841" cy="475" r="8.5"/><text x="841" y="475">63</text></g>
<g id="m67"><circle class="g" cx="867" cy="433" r="8.5"/><text x="867" y="433">67</text></g>
<g id="m68"><circle class="p" cx="876" cy="433" r="8.5"/><text x="876" y="433">68</text></g>
<g id="m70"><circle class="p" cx="888" cy="433" r="8.5"/><text x="888" y="433">70</text></g>
<g id="m72"><circle class="p" cx="901" cy="433" r="8.5"/><text x="901" y="433">72</text></g>
<g id="m84"><circle class="p" cx="972" cy="433" r="8.5"/><text x="972" y="433">84</text></g>
<g id="m89"><circle class="g" cx="1000" cy="433" r="8.5"/><text x="1000" y="433">89</text></g>
<g id="m99"><circle class="g" cx="681" cy="433" r="8.5"/><text x="681" y="433">99</text></g>
<g id="m102"><circle class="p" cx="700" cy="433" r="8.5"/><text x="700" y="433">102</text></g>
<g id="m104"><circle class="p" cx="712" cy="433" r="8.5"/><text x="712" y="433">104</text></g>
<g id="m121"><circle class="g" cx="810" cy="433" r="8.5"/><text x="810" y="433">121</text></g>
<g id="m122"><circle class="p" cx="815" cy="433" r="8.5"/><text x="815" y="433">122</text></g>
<g id="m123"><circle class="g" cx="822" cy="433" r="8.5"/><text x="822" y="433">123</text></g>
<g id="m125"><circle class="g" cx="833" cy="433" r="8.5"/><text x="833" y="433">125</text></g>
<g id="m127"><circle class="g" cx="845" cy="433" r="8.5"/><text x="845" y="433">127</text></g>
<g id="m134"><circle class="p" cx="869" cy="391" r="8.5"/><text x="869" y="391">134</text></g>
<g id="m194"><circle class="p" cx="669" cy="391" r="8.5"/><text x="669" y="391">194</text></g>
<g id="m255"><circle class="g" cx="848" cy="391" r="8.5"/><text x="848" y="391">255</text></g>
</g>
</g>

<g id="tree3">
<g id="tree3-connectors" class="edges">
<line x1="417" y1="817" x2="249" y2="858"/><line x1="417" y1="817" x2="268" y2="858"/><line x1="417" y1="817" x2="282" y2="858"/><line x1="417" y1="817" x2="377" y2="858"/><line x1="417" y1="817" x2="383" y2="858"/><line x1="417" y1="817" x2="390" y2="858"/><line x1="417" y1="817" x2="402" y2="858"/><line x1="417" y1="817" x2="414" y2="858"/><line x1="417" y1="817" x2="437" y2="858"/><line x1="417" y1="817" x2="447" y2="858"/><line x1="417" y1="817" x2="457" y2="858"/><line x1="417" y1="817" x2="470" y2="858"/><line x1="417" y1="817" x2="542" y2="858"/><line x1="417" y1="817" x2="569" y2="858"/>
<line x1="237" y1="817" x2="268" y2="858"/><line x1="237" y1="817" x2="457" y2="858"/><line x1="237" y1="817" x2="470" y2="858"/><line x1="237" y1="817" x2="542" y2="858"/><line x1="237" y1="817" x2="569" y2="858"/>
<line x1="438" y1="817" x2="249" y2="858"/><line x1="438" y1="817" x2="282" y2="858"/><line x1="438" y1="817" x2="377" y2="858"/><line x1="438" y1="817" x2="383" y2="858"/><line x1="438" y1="817" x2="390" y2="858"/><line x1="438" y1="817" x2="402" y2="858"/><line x1="438" y1="817" x2="414" y2="858"/><line x1="438" y1="817" x2="437" y2="858"/><line x1="438" y1="817" x2="447" y2="858"/>
<line x1="249" y1="858" x2="239" y2="901"/><line x1="282" y1="858" x2="239" y2="901"/><line x1="249" y1="858" x2="262" y2="901"/><line x1="268" y1="858" x2="262" y2="901"/><line x1="268" y1="858" x2="268" y2="901"/><line x1="390" y1="858" x2="268" y2="901"/><line x1="282" y1="858" x2="295" y2="901"/><line x1="414" y1="858" x2="295" y2="901"/><line x1="377" y1="858" x2="316" y2="901"/><line x1="447" y1="858" x2="316" y2="901"/><line x1="390" y1="858" x2="343" y2="901"/><line x1="457" y1="858" x2="343" y2="901"/><line x1="377" y1="858" x2="381" y2="901"/><line x1="383" y1="858" x2="381" y2="901"/>
<line x1="402" y1="858" x2="400" y2="901"/><line x1="383" y1="858" x2="400" y2="901"/><line x1="414" y1="858" x2="410" y2="901"/><line x1="470" y1="858" x2="410" y2="901"/><line x1="437" y1="858" x2="457" y2="901"/><line x1="457" y1="858" x2="457" y2="901"/><line x1="569" y1="858" x2="474" y2="901"/><line x1="470" y1="858" x2="474" y2="901"/><line x1="437" y1="858" x2="481" y2="901"/><line x1="542" y1="858" x2="481" y2="901"/><line x1="569" y1="858" x2="522" y2="901"/><line x1="447" y1="858" x2="522" y2="901"/><line x1="569" y1="858" x2="543" y2="901"/><line x1="542" y1="858" x2="543" y2="901"/>
<line x1="239" y1="901" x2="248" y2="943"/><line x1="268" y1="901" x2="248" y2="943"/><line x1="262" y1="901" x2="267" y2="943"/><line x1="268" y1="901" x2="267" y2="943"/><line x1="239" y1="901" x2="295" y2="943"/><line x1="295" y1="901" x2="295" y2="943"/><line x1="316" y1="901" x2="307" y2="943"/><line x1="381" y1="901" x2="307" y2="943"/><line x1="268" y1="901" x2="361" y2="943"/><line x1="381" y1="901" x2="361" y2="943"/><line x1="343" y1="901" x2="383" y2="943"/><line x1="400" y1="901" x2="383" y2="943"/><line x1="400" y1="901" x2="402" y2="943"/><line x1="410" y1="901" x2="402" y2="943"/>
<line x1="457" y1="901" x2="437" y2="943"/><line x1="381" y1="901" x2="437" y2="943"/><line x1="457" y1="901" x2="456" y2="943"/><line x1="474" y1="901" x2="456" y2="943"/><line x1="481" y1="901" x2="477" y2="943"/><line x1="474" y1="901" x2="477" y2="943"/><line x1="522" y1="901" x2="530" y2="943"/><line x1="410" y1="901" x2="530" y2="943"/><line x1="543" y1="901" x2="543" y2="943"/><line x1="481" y1="901" x2="543" y2="943"/><line x1="262" y1="901" x2="572" y2="943"/><line x1="316" y1="901" x2="572" y2="943"/><line x1="481" y1="901" x2="590" y2="943"/><line x1="522" y1="901" x2="590" y2="943"/>
<line x1="248" y1="943" x2="267" y2="985"/><line x1="267" y1="943" x2="267" y2="985"/><line x1="295" y1="943" x2="300" y2="985"/><line x1="307" y1="943" x2="300" y2="985"/><line x1="361" y1="943" x2="361" y2="985"/><line x1="477" y1="943" x2="361" y2="985"/><line x1="383" y1="943" x2="383" y2="985"/><line x1="402" y1="943" x2="383" y2="985"/><line x1="437" y1="943" x2="456" y2="985"/><line x1="456" y1="943" x2="456" y2="985"/><line x1="530" y1="943" x2="535" y2="985"/><line x1="543" y1="943" x2="535" y2="985"/><line x1="572" y1="943" x2="572" y2="985"/><line x1="590" y1="943" x2="572" y2="985"/>
<line x1="267" y1="985" x2="299" y2="1027"/><line x1="300" y1="985" x2="299" y2="1027"/><line x1="361" y1="985" x2="376" y2="1027"/><line x1="383" y1="985" x2="376" y2="1027"/><line x1="456" y1="985" x2="460" y2="1027"/><line x1="383" y1="985" x2="460" y2="1027"/><line x1="535" y1="985" x2="535" y2="1027"/><line x1="572" y1="985" x2="535" y2="1027"/>
<line x1="299" y1="1027" x2="376" y2="1069"/><line x1="376" y1="1027" x2="376" y2="1069"/><line x1="460" y1="1027" x2="460" y2="1069"/><line x1="535" y1="1027" x2="460" y2="1069"/>
<line x1="376" y1="1069" x2="440" y2="1110"/><line x1="460" y1="1069" x2="440" y2="1110"/>
</g>
<g id="tree3-nodes" class="nodes" font-size="7">
<g id="b1"><circle class="g" cx="440" cy="1110" r="8.6"/><text x="440" y="1110">1</text></g>
<g id="b2"><circle class="p" cx="460" cy="1069" r="8.6"/><text x="460" y="1069">2</text></g>
<g id="b3"><circle class="g" cx="376" cy="1069" r="8.6"/><text x="376" y="1069">3</text></g>
<g id="b4"><circle class="p" cx="460" cy="1027" r="8.6"/><text x="460" y="1027">4</text></g>
<g id="b5"><circle class="g" cx="535" cy="1027" r="8.6"/><text x="535" y="1027">5</text></g>
<g id="b6"><circle class="p" cx="299" cy="1027" r="8.6"/><text x="299" y="1027">6</text></g>
<g id="b7"><circle class="g" cx="376" cy="1027" r="8.6"/><text x="376" y="1027">7</text></g>
<g id="b8"><circle class="p" cx="456" cy="985" r="8.6"/><text x="456" y="985">8</text></g>
<g id="b10"><circle class="p" cx="535" cy="985" r="8.6"/><text x="535" y="985">10</text></g>
<g id="b11"><circle class="g" cx="572" cy="985" r="8.6"/><text x="572" y="985">11</text></g>
<g id="b12"><circle class="p" cx="267" cy="985" r="8.6"/><text x="267" y="985">12</text></g>
<g id="b13"><circle class="g" cx="300" cy="985" r="8.6"/><text x="300" y="985">13</text></g>
<g id="b14"><circle class="p" cx="361" cy="985" r="8.6"/><text x="361" y="985">14</text></g>
<g id="b15"><circle class="g" cx="383" cy="985" r="8.6"/><text x="383" y="985">15</text></g>
<g id="b16"><circle class="p" cx="437" cy="943" r="8.6"/><text x="437" y="943">16</text></g>
<g id="b17"><circle class="g" cx="456" cy="943" r="8.6"/><text x="456" y="943">17</text></g>
<g id="b18"><circle class="p" cx="477" cy="943" r="8.6"/><text x="477" y="943">18</text></g>
<g id="b20"><circle class="p" cx="530" cy="943" r="8.6"/><text x="530" y="943">20</text></g>
<g id="b21"><circle class="g" cx="543" cy="943" r="8.6"/><text x="543" y="943">21</text></g>
<g id="b22"><circle class="p" cx="572" cy="943" r="8.6"/><text x="572" y="943">22</text></g>
<g id="b23"><circle class="g" cx="590" cy="943" r="8.6"/><text x="590" y="943">23</text></g>
<g id="b24"><circle class="p" cx="248" cy="943" r="8.6"/><text x="248" y="943">24</text></g>
<g id="b25"><circle class="g" cx="267" cy="943" r="8.6"/><text x="267" y="943">25</text></g>
<g id="b26"><circle class="p" cx="295" cy="943" r="8.6"/><text x="295" y="943">26</text></g>
<g id="b27"><circle class="g" cx="307" cy="943" r="8.6"/><text x="307" y="943">27</text></g>
<g id="b29"><circle class="g" cx="361" cy="943" r="8.6"/><text x="361" y="943">29</text></g>
<g id="b30"><circle class="p" cx="383" cy="943" r="8.6"/><text x="383" y="943">30</text></g>
<g id="b31"><circle class="g" cx="402" cy="943" r="8.6"/><text x="402" y="943">31</text></g>
<g id="b35"><circle class="g" cx="457" cy="901" r="8.6"/><text x="457" y="901">35</text></g>
<g id="b36"><circle class="p" cx="474" cy="901" r="8.6"/><text x="474" y="901">36</text></g>
<g id="b37"><circle class="g" cx="481" cy="901" r="8.6"/><text x="481" y="901">37</text></g>
<g id="b40"><circle class="p" cx="522" cy="901" r="8.6"/><text x="522" y="901">40</text></g>
<g id="b42"><circle class="p" cx="543" cy="901" r="8.6"/><text x="543" y="901">42</text></g>
<g id="b48"><circle class="p" cx="239" cy="901" r="8.6"/><text x="239" y="901">48</text></g>
<g id="b50"><circle class="p" cx="262" cy="901" r="8.6"/><text x="262" y="901">50</text></g>
<g id="b51"><circle class="g" cx="268" cy="901" r="8.6"/><text x="268" y="901">51</text></g>
<g id="b53"><circle class="g" cx="295" cy="901" r="8.6"/><text x="295" y="901">53</text></g>
<g id="b55"><circle class="g" cx="316" cy="901" r="8.6"/><text x="316" y="901">55</text></g>
<g id="b57"><circle class="g" cx="343" cy="901" r="8.6"/><text x="343" y="901">57</text></g>
<g id="b60"><circle class="p" cx="381" cy="901" r="8.6"/><text x="381" y="901">60</text></g>
<g id="b62"><circle class="p" cx="400" cy="901" r="8.6"/><text x="400" y="901">62</text></g>
<g id="b63"><circle class="g" cx="410" cy="901" r="8.6"/><text x="410" y="901">63</text></g>
<g id="b67"><circle class="g" cx="437" cy="858" r="8.6"/><text x="437" y="858">67</text></g>
<g id="b68"><circle class="p" cx="447" cy="858" r="8.6"/><text x="447" y="858">68</text></g>
<g id="b70"><circle class="p" cx="457" cy="858" r="8.6"/><text x="457" y="858">70</text></g>
<g id="b72"><circle class="p" cx="470" cy="858" r="8.6"/><text x="470" y="858">72</text></g>
<g id="b84"><circle class="p" cx="542" cy="858" r="8.6"/><text x="542" y="858">84</text></g>
<g id="b89"><circle class="g" cx="569" cy="858" r="8.6"/><text x="569" y="858">89</text></g>
<g id="b99"><circle class="g" cx="249" cy="858" r="8.6"/><text x="249" y="858">99</text></g>
<g id="b102"><circle class="p" cx="268" cy="858" r="8.6"/><text x="268" y="858">102</text></g>
<g id="b104"><circle class="p" cx="282" cy="858" r="8.6"/><text x="282" y="858">104</text></g>
<g id="b121"><circle class="g" cx="377" cy="858" r="8.6"/><text x="377" y="858">121</text></g>
<g id="b122"><circle class="p" cx="383" cy="858" r="8.6"/><text x="383" y="858">122</text></g>
<g id="b123"><circle class="g" cx="390" cy="858" r="8.6"/><text x="390" y="858">123</text></g>
<g id="b125"><circle class="g" cx="402" cy="858" r="8.6"/><text x="402" y="858">125</text></g>
<g id="b127"><circle class="g" cx="414" cy="858" r="8.6"/><text x="414" y="858">127</text></g>
<g id="b134"><circle class="p" cx="438" cy="817" r="8.6"/><text x="438" y="817">134</text></g>
<g id="b194"><circle class="p" cx="237" cy="817" r="8.6"/><text x="237" y="817">194</text></g>
<g id="b255"><circle class="g" cx="417" cy="817" r="8.6"/><text x="417" y="817">255</text></g>
</g>
</g>

<g id="annotations" fill="none" stroke-width="2">
<polyline points="643,375 765,375 765,461" stroke="#e00000"/>
<circle cx="773" cy="479" r="19" stroke="#e00000"/>
<circle cx="667" cy="396" r="19.5" stroke="#ff8000"/>
<polyline points="490,464 607,464 655,412" stroke="#ff8000"/>
<circle cx="890" cy="604" r="20" stroke="#0000ee"/>
<line x1="906" y1="616" x2="969" y2="667" stroke="#0000ee"/>
<line x1="970" y1="620" x2="970" y2="706" stroke="#0000ee"/>
</g>

<g id="green-arrows">
<polygon class="big" points="506,253 525,235 562,282 577,265 585,320 532,306 546,297"/>
<polygon class="big" points="639,757 656,775 613,817 631,829 578,843 584,789 597,803"/>
</g>

<g id="notes" class="ann">
<text x="651" y="292" xml:space="preserve">This node  is missing both</text>
<text x="651" y="317">types of progenitors. It also</text>
<text x="651" y="342">has no links to the next</text>
<text x="651" y="367">generation</text>
<text x="440" y="487">This node is from</text>
<text x="440" y="513" xml:space="preserve"> the 7-th generation.</text>
<text x="440" y="537">It is missing at least</text>
<text x="440" y="563">one link to the next</text>
<text x="440" y="588">generation</text>
<text x="975" y="635">This node is</text>
<text x="975" y="661">missing one type</text>
<text x="975" y="686">of progenitor</text>
</g>

<g id="steps" class="step">
<text x="511" y="45"><tspan class="b">Step 1:</tspan> Full <tspan class="i">binary tree</tspan></text>
<g clip-path="url(#clip2)">
<text x="10" y="627"><tspan class="b">Step 2:</tspan> <tspan class="i">remove a certain number</tspan></text>
<text x="10" y="664"><tspan class="i">of nodes per generation,</tspan> following</text>
<text x="10" y="700">a markovian algorithm, keeping the</text>
<text x="10" y="737">same number of individuals of each</text>
<text x="10" y="773">kind</text>
</g>
<text x="630" y="927"><tspan class="b">Step 3:</tspan> select the <tspan class="i">links between</tspan></text>
<text x="630" y="963"><tspan class="i">generations at random,</tspan> ensuring</text>
<text x="630" y="999">that each node has a link to each</text>
<text x="630" y="1035">type of ancestor</text>
</g>
</svg>
